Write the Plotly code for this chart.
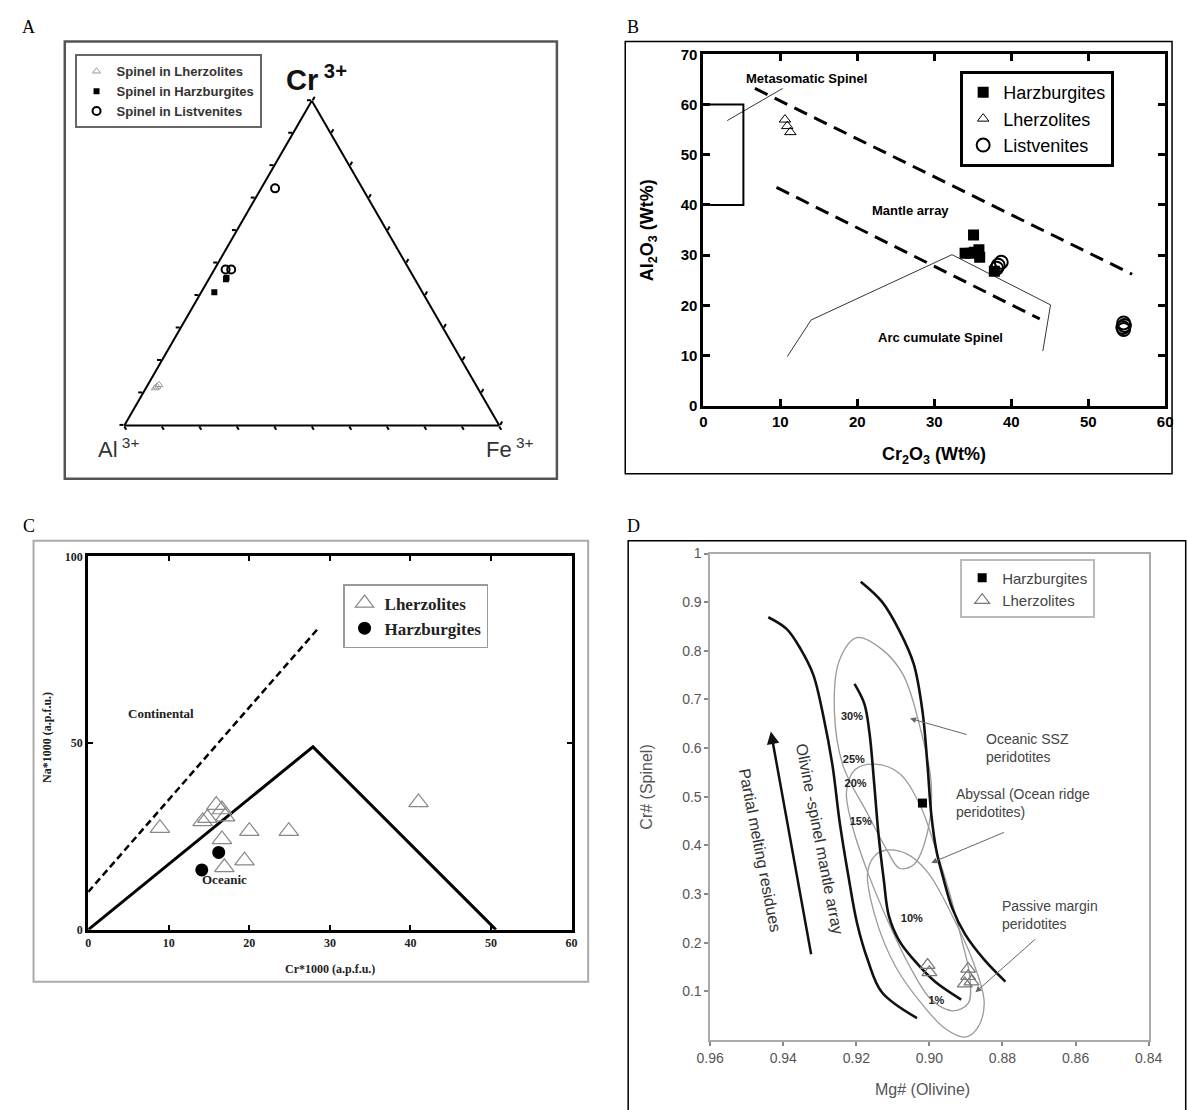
import plotly.graph_objects as go

W, H = 1188, 1110
def px(v): return v / W
def py(v): return 1 - v / H

SANS = "Liberation Sans, Arial, sans-serif"
SERIF = "Liberation Serif, Times New Roman, serif"

# ---------------- Panel A : ternary Cr3+ / Al3+ / Fe3+ ----------------
a_lherz_cr = [0.12, 0.125, 0.115]
a_lherz_al = [0.853, 0.845, 0.86]
a_lherz_fe = [0.027, 0.030, 0.025]
a_harz_cr = [0.45, 0.455, 0.41]
a_harz_al = [0.504, 0.50, 0.555]
a_harz_fe = [0.046, 0.045, 0.035]
a_list_cr = [0.73, 0.48, 0.48]
a_list_al = [0.233, 0.49, 0.475]
a_list_fe = [0.037, 0.03, 0.045]

# ---------------- Panel B : Cr2O3 vs Al2O3 ----------------
b_harz_cr = [35.1, 34.0, 34.7, 35.2, 35.8, 35.9, 37.8]
b_harz_al = [34.0, 30.4, 30.4, 30.6, 31.1, 29.6, 26.8]
b_lherz_cr = [10.6, 10.9, 11.3]
b_lherz_al = [57.0, 55.7, 54.5]
b_list_cr = [38.7, 38.3, 38.1, 54.6, 54.7, 54.5, 54.6]
b_list_al = [28.6, 28.0, 27.4, 16.5, 16.0, 15.6, 15.2]
b_meta_box_x = [0, 5.2, 5.2, 0]
b_meta_box_y = [60, 60, 40, 40]
b_meta_lead_x = [3.1, 10.3]
b_meta_lead_y = [56.8, 63.2]
b_upper_x = [6.7, 55.7]
b_upper_y = [63.2, 26.2]
b_lower_x = [9.5, 43.7]
b_lower_y = [43.5, 17.3]
b_arc_x = [10.9, 14.0, 32.3, 45.1, 44.1]
b_arc_y = [9.8, 17.1, 30.1, 20.1, 10.9]
b_ticks_x = [0, 10, 20, 30, 40, 50, 60]
b_ticks_y = [0, 10, 20, 30, 40, 50, 60, 70]

# ---------------- Panel C : Cr*1000 vs Na*1000 ----------------
c_lherz_x = [8.9, 14.2, 14.8, 15.9, 16.6, 17.0, 20.0, 24.9, 16.6, 19.4, 16.9, 41.0]
c_lherz_y = [27.2, 29.0, 29.9, 33.4, 32.2, 30.3, 26.4, 26.4, 24.2, 18.5, 16.7, 34.1]
c_harz_x = [16.2, 14.1]
c_harz_y = [20.7, 16.0]
c_dash_x = [0, 28.7]
c_dash_y = [10.1, 81.1]
c_tri_x = [0, 27.9, 50.6]
c_tri_y = [0, 49.0, 0]
c_ticks_x = [0, 10, 20, 30, 40, 50, 60]
c_ticks_y = [0, 50, 100]

# ---------------- Panel D : Mg# (olivine) vs Cr# (spinel) ----------------
d_harz_mg = [0.9019]
d_harz_cr = [0.487]
d_lherz_mg = [0.9000, 0.9005, 0.8894, 0.8894, 0.8903, 0.8885]
d_lherz_cr = [0.139, 0.154, 0.146, 0.131, 0.116, 0.120]
d_curve1_mg = [0.9441, 0.9391, 0.9352, 0.9318, 0.9289, 0.9265, 0.9246, 0.9222, 0.9198, 0.9169, 0.9130, 0.9034]
d_curve1_cr = [0.869, 0.845, 0.803, 0.751, 0.661, 0.563, 0.450, 0.338, 0.240, 0.165, 0.098, 0.045]
d_curve2_mg = [0.9205, 0.9178, 0.9164, 0.9151, 0.9140, 0.9125, 0.9111, 0.9082, 0.9043, 0.8985, 0.8913]
d_curve2_cr = [0.732, 0.691, 0.631, 0.526, 0.428, 0.330, 0.255, 0.203, 0.165, 0.120, 0.083]
d_curve3_mg = [0.9188, 0.9130, 0.9082, 0.9043, 0.9019, 0.9005, 0.8995, 0.8981, 0.8961, 0.8937, 0.8903, 0.8850, 0.8792]
d_curve3_cr = [0.942, 0.901, 0.841, 0.773, 0.676, 0.563, 0.465, 0.390, 0.330, 0.270, 0.218, 0.165, 0.120]
d_ssz_mg = [0.9198, 0.9130, 0.9072, 0.9024, 0.8995, 0.9005, 0.9043, 0.9082, 0.9116, 0.9169, 0.9236, 0.9260, 0.9246, 0.9198]
d_ssz_cr = [0.827, 0.803, 0.751, 0.638, 0.526, 0.428, 0.360, 0.353, 0.390, 0.465, 0.563, 0.676, 0.781, 0.827]
d_aby_mg = [0.9149, 0.9082, 0.9024, 0.8985, 0.8947, 0.8913, 0.8889, 0.8894, 0.8937, 0.8995, 0.9053, 0.9111, 0.9169, 0.9212, 0.9227, 0.9203, 0.9149]
d_aby_cr = [0.567, 0.548, 0.480, 0.398, 0.308, 0.210, 0.128, 0.075, 0.060, 0.083, 0.150, 0.240, 0.345, 0.443, 0.511, 0.556, 0.567]
d_pas_mg = [0.9120, 0.9063, 0.9005, 0.8937, 0.8879, 0.8850, 0.8870, 0.8903, 0.8956, 0.9014, 0.9092, 0.9149, 0.9169, 0.9149, 0.9120]
d_pas_cr = [0.390, 0.383, 0.345, 0.255, 0.158, 0.075, 0.023, 0.006, 0.023, 0.068, 0.150, 0.255, 0.345, 0.379, 0.390]
d_pct_labels = ["30%", "25%", "20%", "15%", "10%", "1%"]
d_pct_mg = [0.9212, 0.9207, 0.9202, 0.9188, 0.9048, 0.8981]
d_pct_cr = [0.664, 0.574, 0.526, 0.447, 0.248, 0.079]
d_ticks_x = [0.96, 0.94, 0.92, 0.90, 0.88, 0.86, 0.84]
d_ticklabels_x = ["0.96", "0.94", "0.92", "0.90", "0.88", "0.86", "0.84"]
d_ticks_y = [0.1, 0.2, 0.3, 0.4, 0.5, 0.6, 0.7, 0.8, 0.9, 1.0]
d_ticklabels_y = ["0.1", "0.2", "0.3", "0.4", "0.5", "0.6", "0.7", "0.8", "0.9", "1"]

fig = go.Figure()

# ---- A traces ----
fig.add_trace(go.Scatterternary(a=a_lherz_cr, b=a_lherz_al, c=a_lherz_fe, mode="markers",
    name="Spinel in Lherzolites", legend="legend", subplot="ternary",
    marker=dict(symbol="triangle-up-open", size=7, color="#999999", line=dict(width=1))))
fig.add_trace(go.Scatterternary(a=a_harz_cr, b=a_harz_al, c=a_harz_fe, mode="markers",
    name="Spinel in Harzburgites", legend="legend", subplot="ternary",
    marker=dict(symbol="square", size=6, color="black")))
fig.add_trace(go.Scatterternary(a=a_list_cr, b=a_list_al, c=a_list_fe, mode="markers",
    name="Spinel in Listvenites", legend="legend", subplot="ternary",
    marker=dict(symbol="circle-open", size=8, color="black", line=dict(width=2))))

# ---- B traces ----
def bline(x, y, width=1, dash="solid", color="black"):
    fig.add_trace(go.Scatter(x=x, y=y, mode="lines", xaxis="x", yaxis="y", showlegend=False,
                             line=dict(color=color, width=width, dash=dash), hoverinfo="skip"))

bline(b_meta_box_x, b_meta_box_y, width=2)
bline(b_meta_lead_x, b_meta_lead_y, width=0.8)
bline(b_upper_x, b_upper_y, width=3, dash="14px,8px")
bline(b_lower_x, b_lower_y, width=3, dash="14px,8px")
bline(b_arc_x, b_arc_y, width=0.8)

fig.add_trace(go.Scatter(x=b_harz_cr, y=b_harz_al, mode="markers", name="Harzburgites",
    xaxis="x", yaxis="y", legend="legend2",
    marker=dict(symbol="square", size=11, color="black")))
fig.add_trace(go.Scatter(x=b_lherz_cr, y=b_lherz_al, mode="markers", name="Lherzolites",
    xaxis="x", yaxis="y", legend="legend2",
    marker=dict(symbol="triangle-up-open", size=10, color="black", line=dict(width=1))))
fig.add_trace(go.Scatter(x=b_list_cr, y=b_list_al, mode="markers", name="Listvenites",
    xaxis="x", yaxis="y", legend="legend2",
    marker=dict(symbol="circle-open", size=13, color="black", line=dict(width=2))))

# ---- C traces ----
fig.add_trace(go.Scatter(x=c_dash_x, y=c_dash_y, mode="lines", xaxis="x2", yaxis="y2", showlegend=False,
    line=dict(color="black", width=2.5, dash="7px,4px"), hoverinfo="skip"))
fig.add_trace(go.Scatter(x=c_tri_x, y=c_tri_y, mode="lines", xaxis="x2", yaxis="y2", showlegend=False,
    line=dict(color="black", width=3), hoverinfo="skip"))
fig.add_trace(go.Scatter(x=c_lherz_x, y=c_lherz_y, mode="markers", name="Lherzolites",
    xaxis="x2", yaxis="y2", legend="legend3",
    marker=dict(symbol="triangle-up-open", size=17, color="#888888", line=dict(width=1.2))))
fig.add_trace(go.Scatter(x=c_harz_x, y=c_harz_y, mode="markers", name="Harzburgites",
    xaxis="x2", yaxis="y2", legend="legend3",
    marker=dict(symbol="circle", size=13, color="black")))

# ---- D traces ----
for mx, cy in [(d_ssz_mg, d_ssz_cr), (d_aby_mg, d_aby_cr), (d_pas_mg, d_pas_cr)]:
    fig.add_trace(go.Scatter(x=mx, y=cy, mode="lines", xaxis="x3", yaxis="y3", showlegend=False,
        line=dict(color="#9a9a9a", width=1.3, shape="spline"), hoverinfo="skip"))
for mx, cy in [(d_curve1_mg, d_curve1_cr), (d_curve2_mg, d_curve2_cr), (d_curve3_mg, d_curve3_cr)]:
    fig.add_trace(go.Scatter(x=mx, y=cy, mode="lines", xaxis="x3", yaxis="y3", showlegend=False,
        line=dict(color="#111111", width=2.6, shape="spline"), hoverinfo="skip"))
fig.add_trace(go.Scatter(x=d_pct_mg, y=d_pct_cr, mode="text", text=d_pct_labels, xaxis="x3", yaxis="y3",
    showlegend=False, textposition="middle center",
    textfont=dict(family=SANS, size=11, color="#222222", weight="bold"), hoverinfo="skip"))
fig.add_trace(go.Scatter(x=d_harz_mg, y=d_harz_cr, mode="markers", name="Harzburgites",
    xaxis="x3", yaxis="y3", legend="legend4",
    marker=dict(symbol="square", size=9, color="black")))
fig.add_trace(go.Scatter(x=d_lherz_mg, y=d_lherz_cr, mode="markers", name="Lherzolites",
    xaxis="x3", yaxis="y3", legend="legend4",
    marker=dict(symbol="triangle-up-open", size=13, color="#777777", line=dict(width=1.2))))

# ---------------- Layout ----------------
tern_ax = dict(showticklabels=False, ticks="outside", ticklen=4, tickwidth=2, tickcolor="black",
               dtick=0.1, linecolor="black", linewidth=2, showgrid=False, title=dict(text=""))

b_ax_common = dict(showline=True, linewidth=3, linecolor="black", mirror="ticks", ticks="inside",
                   ticklen=7, tickwidth=2.5, tickcolor="black", showgrid=False, zeroline=False,
                   tickfont=dict(family=SANS, size=15, color="black", weight="bold"))
c_ax_common = dict(showline=True, linewidth=3, linecolor="black", mirror="ticks", ticks="inside",
                   ticklen=5, tickwidth=1.5, tickcolor="black", showgrid=False, zeroline=False,
                   tickfont=dict(family=SERIF, size=12, color="#222222", weight="bold"))
d_ax_common = dict(showline=True, linewidth=1.5, linecolor="#aaaaaa", mirror=True, ticks="outside",
                   ticklen=4, tickwidth=1.5, tickcolor="#888888", showgrid=False, zeroline=False,
                   tickfont=dict(family=SANS, size=14, color="#555555"))

fig.update_layout(
    width=W, height=H, margin=dict(l=0, r=0, t=0, b=0),
    paper_bgcolor="white", plot_bgcolor="white",
    ternary=dict(domain=dict(x=[px(113), px(497)], y=[py(424), py(92)]), sum=1, bgcolor="white",
                 aaxis=tern_ax, baxis=tern_ax, caxis=tern_ax),
    xaxis=dict(domain=[px(706), px(1179)], range=[0, 60], tickvals=b_ticks_x, anchor="y", **b_ax_common),
    yaxis=dict(domain=[py(403), py(46)], range=[0, 70], tickvals=b_ticks_y, anchor="x", **b_ax_common),
    xaxis2=dict(domain=[px(76), px(571)], range=[0, 60], tickvals=c_ticks_x, anchor="y2", **c_ax_common),
    yaxis2=dict(domain=[py(935), py(556)], range=[0, 100], tickvals=c_ticks_y, anchor="x2", **c_ax_common),
    xaxis3=dict(domain=[px(713), px(1162)], range=[0.96, 0.84], tickvals=d_ticks_x,
                ticktext=d_ticklabels_x, anchor="y3", **d_ax_common),
    yaxis3=dict(domain=[py(1047), py(553)], range=[0, 1], tickvals=d_ticks_y,
                ticktext=d_ticklabels_y, anchor="x3", **d_ax_common),
    legend=dict(x=px(62), y=py(46), xanchor="left", yanchor="top", bgcolor="white",
                bordercolor="#666666", borderwidth=2, tracegroupgap=0,
                font=dict(family=SANS, size=13, color="#333333", weight="bold")),
    legend2=dict(x=px(969), y=py(63), xanchor="left", yanchor="top", bgcolor="white",
                 bordercolor="black", borderwidth=3,
                 font=dict(family=SANS, size=18, color="black")),
    legend3=dict(x=px(337), y=py(584), xanchor="left", yanchor="top", bgcolor="white",
                 bordercolor="#999999", borderwidth=1.5,
                 font=dict(family=SERIF, size=17, color="#222222", weight="bold")),
    legend4=dict(x=px(969), y=py(559), xanchor="left", yanchor="top", bgcolor="white",
                 bordercolor="#bbbbbb", borderwidth=2,
                 font=dict(family=SANS, size=15, color="#444444")),
    showlegend=True,
)

# ---------------- Frames ----------------
shapes = [
    dict(type="rect", xref="paper", yref="paper", x0=px(52), x1=px(556), y0=py(477), y1=py(33),
         line=dict(color="#555555", width=2.5)),
    dict(type="rect", xref="paper", yref="paper", x0=px(626), x1=px(1186), y0=py(472), y1=py(33),
         line=dict(color="black", width=1.5)),
    dict(type="rect", xref="paper", yref="paper", x0=px(20), x1=px(588), y0=py(988), y1=py(540),
         line=dict(color="#aaaaaa", width=2)),
    dict(type="rect", xref="paper", yref="paper", x0=px(629), x1=px(1200), y0=py(1120), y1=py(540),
         line=dict(color="black", width=1.5)),
]
fig.update_layout(shapes=shapes)

# ---------------- Annotations ----------------
ann = []
def ptext(x, y, text, size=16, family=SERIF, color="black", weight="normal", angle=0, xanchor="center", align="center"):
    ann.append(dict(xref="paper", yref="paper", x=px(x), y=py(y), text=text, showarrow=False,
                    xanchor=xanchor, yanchor="middle", textangle=angle, align=align,
                    font=dict(family=family, size=size, color=color, weight=weight)))

# panel letters
ptext(15, 18, "A", size=18)
ptext(634, 18, "B", size=18)
ptext(15, 525, "C", size=18)
ptext(634, 525, "D", size=18)

# A apex labels
ptext(310, 70, "Cr<sup> 3+</sup>", size=29, family=SANS, color="#111111", weight="bold")
ptext(107, 446, "Al<sup> 3+</sup>", size=22, family=SANS, color="#333333")
ptext(508, 446, "Fe<sup> 3+</sup>", size=22, family=SANS, color="#333333")

# B axis titles
ptext(942, 453, "Cr<sub>2</sub>O<sub>3</sub> (Wt%)", size=18, family=SANS, weight="bold")
ptext(650, 225, "Al<sub>2</sub>O<sub>3</sub> (Wt%)", size=18, family=SANS, weight="bold", angle=-90)
# C axis titles
ptext(324, 975, "Cr*1000 (a.p.f.u.)", size=12, family=SERIF, color="#222222", weight="bold")
ptext(33, 740, "Na*1000 (a.p.f.u.)", size=12, family=SERIF, color="#222222", weight="bold", angle=-90)
# D axis titles
ptext(930, 1097, "Mg# (Olivine)", size=16, family=SANS, color="#555555")
ptext(648, 790, "Cr# (Spinel)", size=16, family=SANS, color="#555555", angle=-90)

def dtext(xr, yr, x, y, text, size, family, color="black", weight="normal", angle=0, xanchor="center", align="center"):
    ann.append(dict(xref=xr, yref=yr, x=x, y=y, text=text, showarrow=False, xanchor=xanchor,
                    yanchor="middle", textangle=angle, align=align,
                    font=dict(family=family, size=size, color=color, weight=weight)))

# B field labels
dtext("x", "y", 13.4, 65.1, "Metasomatic Spinel", 13, SANS, weight="bold")
dtext("x", "y", 26.9, 38.9, "Mantle array", 13, SANS, weight="bold")
dtext("x", "y", 30.8, 13.7, "Arc cumulate Spinel", 13, SANS, weight="bold")
# C field labels
dtext("x2", "y2", 9.0, 57.8, "Continental", 13, SERIF, color="#222222", weight="bold")
dtext("x2", "y2", 16.9, 13.4, "Oceanic", 13, SERIF, color="#222222", weight="bold")
# D labels
dtext("x3", "y3", 0.885, 0.600, "Oceanic SSZ<br>peridotites", 14, SANS, color="#444444", xanchor="left", align="left")
dtext("x3", "y3", 0.8932, 0.487, "Abyssal (Ocean ridge<br>peridotites)", 14, SANS, color="#444444", xanchor="left", align="left")
dtext("x3", "y3", 0.8807, 0.257, "Passive margin<br>peridotites", 14, SANS, color="#444444", xanchor="left", align="left")
dtext("x3", "y3", 0.9463, 0.390, "Partial melting residues", 16, SANS, color="#333333", angle=79)
dtext("x3", "y3", 0.9299, 0.413, "Olivine -spinel mantle array", 16, SANS, color="#333333", angle=79)

# D arrows
def darrow(x0, y0, x1, y1, color="#666666", width=1, head=2, size=1.2):
    ann.append(dict(xref="x3", yref="y3", axref="x3", ayref="y3", x=x1, y=y1, ax=x0, ay=y0, text="",
                    showarrow=True, arrowhead=head, arrowsize=size, arrowwidth=width, arrowcolor=color))

darrow(0.8894, 0.627, 0.9053, 0.661)
darrow(0.8792, 0.428, 0.8995, 0.364)
darrow(0.8706, 0.210, 0.8874, 0.098)
darrow(0.9323, 0.173, 0.9434, 0.634, color="#111111", width=2.5, head=2, size=1)

fig.update_layout(annotations=ann)

fig.write_html(
    "out.html",
    config={"displayModeBar": False},
    post_script=("document.documentElement.style.margin='0px';document.documentElement.style.padding='0px';"
                 "document.body.style.margin='0px';document.body.style.padding='0px';"
                 "document.documentElement.style.overflow='hidden';document.body.style.overflow='hidden';"),
)
